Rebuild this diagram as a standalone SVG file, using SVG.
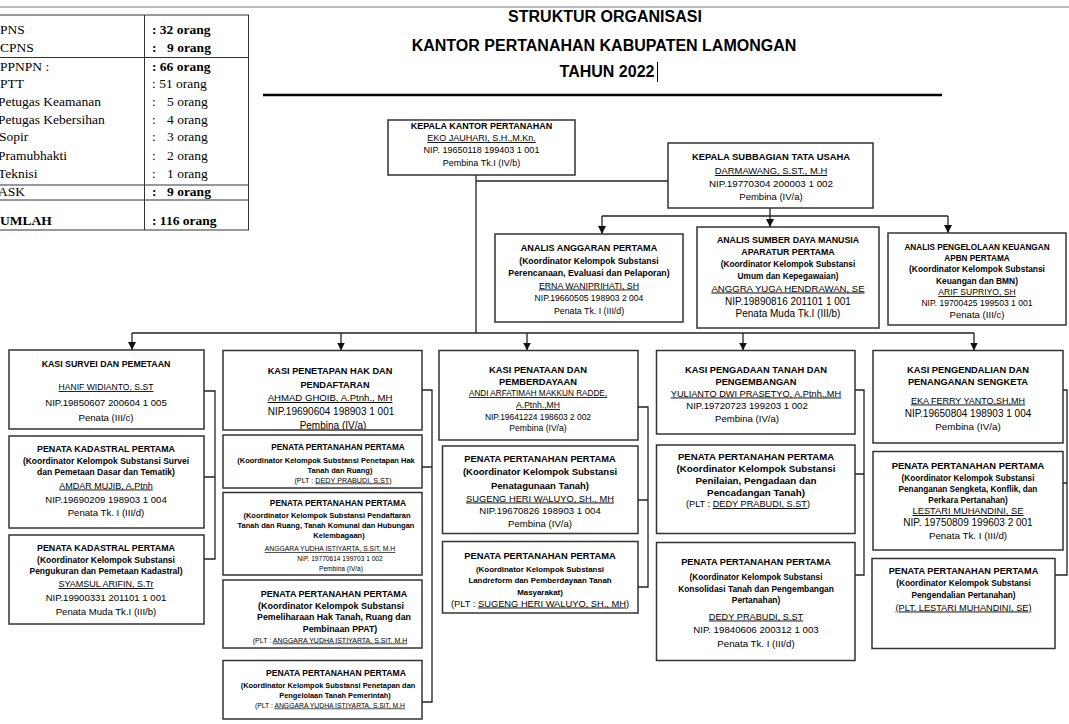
<svg xmlns="http://www.w3.org/2000/svg" width="1069" height="724" viewBox="0 0 1069 724">
<defs>
<style>
text{font-family:"Liberation Sans",Arial,sans-serif;fill:#000;text-anchor:middle}
.b{font-weight:bold}
.u{text-decoration:underline}
.box{fill:#fff;stroke:#333;stroke-width:1.5}
.ln{fill:none;stroke:#222;stroke-width:1.3}
.tl{fill:none;stroke:#333;stroke-width:1}
.tb{font-family:"Liberation Serif","Times New Roman",serif;font-size:13.5px;text-anchor:start}
.ttl{font-size:16px;font-weight:bold}
</style>
<marker id="arr" viewBox="0 0 8 8" refX="8" refY="4" markerWidth="8" markerHeight="8" orient="auto" markerUnits="userSpaceOnUse"><path d="M0,0 L8,4 L0,8 z" fill="#111"/></marker>
<clipPath id="clipC2A"><rect x="223" y="350" width="199" height="80"/></clipPath>
</defs>
<rect width="1069" height="724" fill="#fff"/>
<line x1="0" y1="7" x2="1069" y2="7" stroke="#777" stroke-width="1"/>

<g id="tabel">
<path class="tl" d="M0,15 H249 M144.5,15 V230 M248.5,15 V230 M0,57.5 H249 M0,185 H249 M0,200 H249 M0,230 H249"/>
<text class="tb" x="0" y="34">PNS</text>
<text class="tb" x="0" y="52">CPNS</text>
<text class="tb" x="0" y="70.5">PPNPN :</text>
<text class="tb" x="0" y="88">PTT</text>
<text class="tb" x="-2" y="106">Petugas Keamanan</text>
<text class="tb" x="-2" y="123.5">Petugas Kebersihan</text>
<text class="tb" x="-1" y="141">Sopir</text>
<text class="tb" x="-2" y="160">Pramubhakti</text>
<text class="tb" x="-2" y="178">Teknisi</text>
<text class="tb" x="-2" y="196">ASK</text>
<text class="tb b" x="0" y="224.5">UMLAH</text>
<text class="tb b" x="152" y="34">: 32 orang</text>
<text class="tb b" x="152" y="52">:</text><text class="tb b" x="167" y="52">9 orang</text>
<text class="tb b" x="152" y="70.5">: 66 orang</text>
<text class="tb" x="152" y="88">: 51 orang</text>
<text class="tb" x="152" y="106">:</text><text class="tb" x="167" y="106">5 orang</text>
<text class="tb" x="152" y="123.5">:</text><text class="tb" x="167" y="123.5">4 orang</text>
<text class="tb" x="152" y="141">:</text><text class="tb" x="167" y="141">3 orang</text>
<text class="tb" x="152" y="160">:</text><text class="tb" x="167" y="160">2 orang</text>
<text class="tb" x="152" y="178">:</text><text class="tb" x="167" y="178">1 orang</text>
<text class="tb b" x="152" y="196">:</text><text class="tb b" x="167" y="196">9 orang</text>
<text class="tb b" x="152" y="224.5">: 116 orang</text>
</g>

<g id="judul">
<text class="ttl" x="605" y="22">STRUKTUR ORGANISASI</text>
<text class="ttl" x="604" y="51">KANTOR PERTANAHAN KABUPATEN LAMONGAN</text>
<text class="ttl" x="607" y="77">TAHUN 2022</text>
<line x1="657.5" y1="62" x2="657.5" y2="82" stroke="#000" stroke-width="1"/>
<line x1="263" y1="95" x2="942" y2="95" stroke="#000" stroke-width="2.5"/>
</g>

<g id="connectors">
<path class="ln" d="M476,175 V333 M476,181 H668"/>
<path class="ln" d="M770,208 V227" marker-end="url(#arr)"/>
<path class="ln" d="M602,216 H948"/>
<path class="ln" d="M602,216 V234" marker-end="url(#arr)"/>
<path class="ln" d="M948,216 V233" marker-end="url(#arr)"/>
<path class="ln" d="M132,333 H974"/>
<path class="ln" d="M132,333 V350" marker-end="url(#arr)"/>
<path class="ln" d="M341,333 V350.5" marker-end="url(#arr)"/>
<path class="ln" d="M527,333 V350.5" marker-end="url(#arr)"/>
<path class="ln" d="M743,333 V350.5" marker-end="url(#arr)"/>
<path class="ln" d="M974,333 V350.5" marker-end="url(#arr)"/>
<path class="ln" d="M204,391 H215 V559 H204 M204,477 H215"/>
<path class="ln" d="M422,390 H432 V702 H422 M422,467 H432"/>
<path class="ln" d="M638,407 H648 V587 H638 M638,500 H648"/>
<path class="ln" d="M855,390 H864 V575 H855 M855,474 H864"/>
<path class="ln" d="M1063,390 H1067 V575 H1055 M1063,483 H1067"/>
</g>

<g id="kepala-kantor">
<rect class="box" x="388" y="120" width="187" height="55"/>
<text class="b" x="481.5" y="129" font-size="9">KEPALA KANTOR PERTANAHAN</text>
<text class="u" x="481.5" y="141" font-size="9">EKO JAUHARI, S.H.,M.Kn.</text>
<text x="481.5" y="153" font-size="9">NIP. 19650118 199403 1 001</text>
<text x="481.5" y="165.5" font-size="9">Pembina Tk.I (IV/b)</text>
</g>

<g id="kasubag-tu">
<rect class="box" x="668" y="143" width="205" height="65"/>
<text class="b" x="771" y="160" font-size="9.4">KEPALA SUBBAGIAN TATA USAHA</text>
<text class="u" x="771" y="174" font-size="9.4">DARMAWANG, S.ST., M.H</text>
<text x="771" y="187" font-size="9.8">NIP.19770304 200003 1 002</text>
<text x="771" y="200" font-size="9.5">Pembina (IV/a)</text>
</g>

<g id="analis-anggaran">
<rect class="box" x="495" y="234" width="188" height="88"/>
<text class="b" x="589" y="251" font-size="9.1">ANALIS ANGGARAN PERTAMA</text>
<text class="b" x="589" y="264" font-size="8.6">(Koordinator Kelompok Substansi</text>
<text class="b" x="589" y="275.5" font-size="8.8">Perencanaan, Evaluasi dan Pelaporan)</text>
<text class="u" x="589" y="288.5" font-size="8.8">ERNA WANIPRIHATI, SH</text>
<text x="589" y="301" font-size="8.6">NIP.19660505 198903 2 004</text>
<text x="589" y="313.5" font-size="8.8">Penata Tk. I (III/d)</text>
</g>

<g id="analis-sdm">
<rect class="box" x="697" y="227" width="182" height="101"/>
<text class="b" x="788" y="243" font-size="8.8">ANALIS SUMBER DAYA MANUSIA</text>
<text class="b" x="788" y="255" font-size="8.8">APARATUR PERTAMA</text>
<text class="b" x="788" y="267" font-size="8.3">(Koordinator Kelompok Substansi</text>
<text class="b" x="788" y="279" font-size="8.3">Umum dan Kepegawaian)</text>
<text class="u" x="788" y="291.5" font-size="9.6">ANGGRA YUGA HENDRAWAN, SE</text>
<text x="788" y="304.5" font-size="10">NIP.19890816 201101 1 001</text>
<text x="788" y="316.5" font-size="10">Penata Muda Tk.I (III/b)</text>
</g>

<g id="analis-keuangan">
<rect class="box" x="888" y="233" width="178" height="92"/>
<text class="b" x="977" y="249.5" font-size="8.2">ANALIS PENGELOLAAN KEUANGAN</text>
<text class="b" x="977" y="261" font-size="8.2">APBN PERTAMA</text>
<text class="b" x="977" y="272" font-size="8.4">(Koordinator Kelompok Substansi</text>
<text class="b" x="977" y="284" font-size="8.4">Keuangan dan BMN)</text>
<text class="u" x="977" y="295" font-size="8.6">ARIF SUPRIYO, SH</text>
<text x="977" y="306" font-size="8.6">NIP. 19700425 199503 1 001</text>
<text x="977" y="317.5" font-size="9.6">Penata (III/c)</text>
</g>

<g id="kasi-survei">
<rect class="box" x="9" y="350" width="195" height="79"/>
<text class="b" x="106" y="366.5" font-size="8.8">KASI SURVEI DAN PEMETAAN</text>
<text class="u" x="106" y="390" font-size="8.6">HANIF WIDIANTO, S.ST</text>
<text x="106" y="406" font-size="9.6">NIP.19850607 200604 1 005</text>
<text x="106" y="420.5" font-size="9.6">Penata (III/c)</text>
</g>
<g id="kadastral-1">
<rect class="box" x="9" y="436" width="195" height="92"/>
<text class="b" x="106" y="451.5" font-size="8.9">PENATA KADASTRAL PERTAMA</text>
<text class="b" x="106" y="463.5" font-size="8.5">(Koordinator Kelompok Substansi Survei</text>
<text class="b" x="106" y="475" font-size="8.5">dan Pemetaan Dasar dan Tematik)</text>
<text class="u" x="106" y="488.5" font-size="9">AMDAR MUJIB, A.Ptnh</text>
<text x="106" y="502.5" font-size="9.6">NIP.19690209 198903 1 004</text>
<text x="106" y="516" font-size="9.6">Penata Tk. I (III/d)</text>
</g>
<g id="kadastral-2">
<rect class="box" x="9" y="535" width="195" height="89"/>
<text class="b" x="106" y="551" font-size="8.9">PENATA KADASTRAL PERTAMA</text>
<text class="b" x="106" y="562.5" font-size="8.5">(Koordinator Kelompok Substansi</text>
<text class="b" x="106" y="574" font-size="8.5">Pengukuran dan Pemetaan Kadastral)</text>
<text class="u" x="106" y="587" font-size="9">SYAMSUL ARIFIN, S.Tr</text>
<text x="106" y="601" font-size="9.6">NIP.19900331 201101 1 001</text>
<text x="106" y="615" font-size="9.6">Penata Muda Tk.I (III/b)</text>
</g>

<g id="kasi-penetapan">
<rect class="box" x="223" y="350.5" width="199" height="79.5"/>
<g clip-path="url(#clipC2A)">
<text class="b" x="330" y="373.5" font-size="9.2">KASI PENETAPAN HAK DAN</text>
<text class="b" x="335" y="387.5" font-size="9.2">PENDAFTARAN</text>
<text class="u" x="330" y="401" font-size="9.6">AHMAD GHOIB, A.Ptnh., MH</text>
<text x="331" y="414.5" font-size="10">NIP.19690604 198903 1 001</text>
<text x="333" y="428.5" font-size="10">Pembina (IV/a)</text>
</g>
</g>
<g id="penetapan-1">
<rect class="box" x="223" y="435" width="199" height="53"/>
<text class="b" x="338" y="449.5" font-size="8.2">PENATA PERTANAHAN PERTAMA</text>
<text class="b" x="326" y="462.5" font-size="7.5">(Koordinator Kelompok Substansi Penetapan Hak</text>
<text class="b" x="340" y="472.5" font-size="7.5">Tanah dan Ruang)</text>
<text x="343" y="482.5" font-size="7.2">(PLT : <tspan class="u">DEDY PRABUDI, S.ST</tspan>)</text>
</g>
<g id="penetapan-2">
<rect class="box" x="223" y="492.5" width="199" height="82.5"/>
<text class="b" x="338" y="506" font-size="8.4">PENATA PERTANAHAN PERTAMA</text>
<text class="b" x="327" y="517.5" font-size="7.5">(Koordinator Kelompok Substansi Pendaftaran</text>
<text class="b" x="326" y="527.5" font-size="7.5">Tanah dan Ruang, Tanah Komunal dan Hubungan</text>
<text class="b" x="339" y="537.5" font-size="7.5">Kelembagaan)</text>
<text class="u" x="330" y="551" font-size="6.8">ANGGARA YUDHA ISTIYARTA, S.SiT, M.H</text>
<text x="340" y="561" font-size="6.6">NIP. 19770614 199703 1 002</text>
<text x="341" y="571" font-size="6.6">Pembina (IV/a)</text>
</g>
<g id="penetapan-3">
<rect class="box" x="223" y="580" width="199" height="68"/>
<text class="b" x="334" y="596.5" font-size="9">PENATA PERTANAHAN PERTAMA</text>
<text class="b" x="331" y="608.5" font-size="9">(Koordinator Kelompok Substansi</text>
<text class="b" x="334" y="620" font-size="8.8">Pemeliharaan Hak Tanah, Ruang dan</text>
<text class="b" x="340" y="631.5" font-size="8.8">Pembinaan PPAT)</text>
<text x="330" y="642.5" font-size="7">(PLT : <tspan class="u">ANGGARA YUDHA ISTIYARTA, S.SiT, M.H</tspan></text>
</g>
<g id="penetapan-4">
<rect class="box" x="223" y="660.5" width="199" height="58.5"/>
<text class="b" x="336" y="676" font-size="8.6">PENATA PERTANAHAN PERTAMA</text>
<text class="b" x="328" y="687.5" font-size="7.4">(Koordinator Kelompok Substansi Penetapan dan</text>
<text class="b" x="335" y="697.5" font-size="7.4">Pengelolaan Tanah Pemerintah)</text>
<text x="330" y="707.5" font-size="6.8">(PLT : <tspan class="u">ANGGARA YUDHA ISTIYARTA, S.SiT, M.H</tspan></text>
</g>

<g id="kasi-penataan">
<rect class="box" x="439" y="350.5" width="199" height="89.5"/>
<text class="b" x="538" y="373" font-size="9.3">KASI  PENATAAN DAN</text>
<text class="b" x="538" y="385" font-size="9.3">PEMBERDAYAAN</text>
<text class="u" x="538" y="396" font-size="8.2">ANDI ARFATIMAH MAKKUN RADDE,</text>
<text class="u" x="538" y="408" font-size="8.6">A.Ptnh.,MH</text>
<text x="538" y="419.5" font-size="8.4">NIP.19641224 198603 2 002</text>
<text x="538" y="431" font-size="8.6">Pembina (IV/a)</text>
</g>
<g id="penataan-1">
<rect class="box" x="442.5" y="446" width="195.5" height="87.5"/>
<text class="b" x="540" y="462" font-size="9.3">PENATA PERTANAHAN PERTAMA</text>
<text class="b" x="540" y="475" font-size="9.5">(Koordinator Kelompok Substansi</text>
<text class="b" x="540" y="488.5" font-size="9.5">Penatagunaan Tanah)</text>
<text class="u" x="540" y="501.5" font-size="9.3">SUGENG HERI WALUYO, SH., MH</text>
<text x="540" y="514" font-size="9.6">NIP.19670826 198903 1 004</text>
<text x="540" y="526.5" font-size="9.6">Pembina (IV/a)</text>
</g>
<g id="penataan-2">
<rect class="box" x="442.5" y="541.5" width="195.5" height="71.5"/>
<text class="b" x="540" y="558.5" font-size="9.3">PENATA PERTANAHAN PERTAMA</text>
<text class="b" x="540" y="571.5" font-size="7.9">(Koordinator Kelompok Substansi</text>
<text class="b" x="540" y="583" font-size="7.9">Landreform dan Pemberdayaan Tanah</text>
<text class="b" x="540" y="594.5" font-size="7.9">Masyarakat)</text>
<text x="540" y="606.5" font-size="9.3">(PLT : <tspan class="u">SUGENG HERI WALUYO, SH., MH</tspan>)</text>
</g>

<g id="kasi-pengadaan">
<rect class="box" x="656.5" y="350.5" width="198.5" height="83.5"/>
<text class="b" x="756" y="373" font-size="9.3">KASI PENGADAAN TANAH DAN</text>
<text class="b" x="756" y="384.5" font-size="9.3">PENGEMBANGAN</text>
<text class="u" x="756" y="396.5" font-size="9.2">YULIANTO DWI PRASETYO, A.Ptnh.,MH</text>
<text x="747" y="408.5" font-size="9.6">NIP.19720723 199203 1 002</text>
<text x="747" y="421.5" font-size="9.6">Pembina (IV/a)</text>
</g>
<g id="pengadaan-1">
<rect class="box" x="656.5" y="445" width="198.5" height="88.5"/>
<text class="b" x="756" y="460" font-size="9.6">PENATA PERTANAHAN PERTAMA</text>
<text class="b" x="756" y="471.5" font-size="9.8">(Koordinator Kelompok Substansi</text>
<text class="b" x="756" y="483.5" font-size="9.8">Penilaian, Pengadaan dan</text>
<text class="b" x="756" y="495.5" font-size="9.8">Pencadangan Tanah)</text>
<text x="748" y="507" font-size="9.2">(PLT : <tspan class="u">DEDY PRABUDI, S.ST</tspan>)</text>
</g>
<g id="pengadaan-2">
<rect class="box" x="656.5" y="542.5" width="198.5" height="118"/>
<text class="b" x="756" y="564.5" font-size="9.2">PENATA PERTANAHAN PERTAMA</text>
<text class="b" x="756" y="579.5" font-size="8.2">(Koordinator Kelompok Substansi</text>
<text class="b" x="756" y="591.5" font-size="8.4">Konsolidasi Tanah dan Pengembangan</text>
<text class="b" x="756" y="603" font-size="8.4">Pertanahan)</text>
<text class="u" x="756" y="619.5" font-size="9.2">DEDY PRABUDI, S.ST</text>
<text x="756" y="633" font-size="9.7">NIP. 19840606 200312 1 003</text>
<text x="756" y="647" font-size="9.7">Penata Tk. I (III/d)</text>
</g>

<g id="kasi-pengendalian">
<rect class="box" x="873" y="350.5" width="190" height="92.5"/>
<text class="b" x="968" y="373" font-size="9.3">KASI PENGENDALIAN DAN</text>
<text class="b" x="968" y="385" font-size="9.3">PENANGANAN SENGKETA</text>
<text class="u" x="968" y="403.5" font-size="9">EKA FERRY YANTO,SH,MH</text>
<text x="968" y="417" font-size="10">NIP.19650804 198903 1 004</text>
<text x="968" y="430" font-size="9.8">Pembina (IV/a)</text>
</g>
<g id="pengendalian-1">
<rect class="box" x="873" y="451.5" width="190" height="98.5"/>
<text class="b" x="968" y="468.5" font-size="9.4">PENATA PERTANAHAN PERTAMA</text>
<text class="b" x="968" y="480.5" font-size="8.2">(Koordinator Kelompok Substansi</text>
<text class="b" x="968" y="491.5" font-size="8.2">Penanganan Sengketa, Konflik, dan</text>
<text class="b" x="968" y="503" font-size="8.2">Perkara Pertanahan)</text>
<text class="u" x="968" y="514" font-size="9.3">LESTARI MUHANDINI, SE</text>
<text x="968" y="525.5" font-size="10">NIP. 19750809 199603 2 001</text>
<text x="968" y="538.5" font-size="9.8">Penata Tk. I (III/d)</text>
</g>
<g id="pengendalian-2">
<rect class="box" x="872" y="558.5" width="183" height="90"/>
<text class="b" x="963.5" y="574" font-size="9.2">PENATA PERTANAHAN PERTAMA</text>
<text class="b" x="963.5" y="586" font-size="8.3">(Koordinator Kelompok Substansi</text>
<text class="b" x="963.5" y="597.5" font-size="8.3">Pengendalian Pertanahan)</text>
<text class="u" x="963.5" y="610.5" font-size="9.2">(PLT. LESTARI MUHANDINI, SE)</text>
</g>
</svg>
